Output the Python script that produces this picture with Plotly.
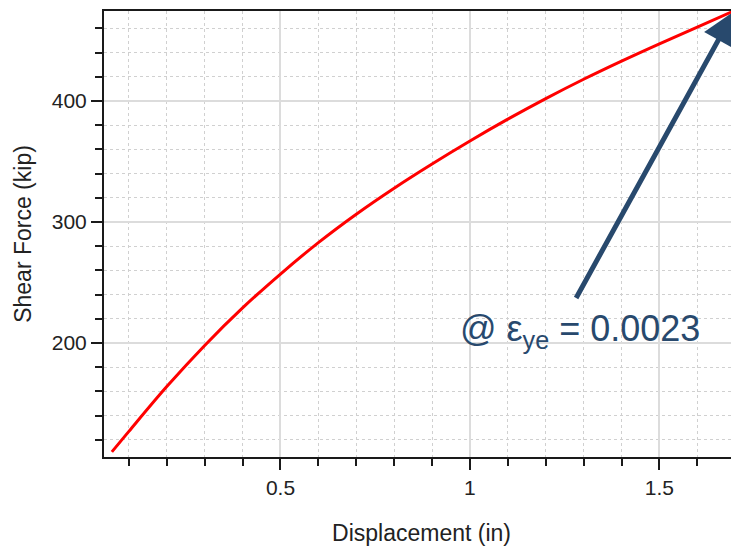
import plotly.graph_objects as go

# Data
disp = [0.055, 0.1, 0.2, 0.3, 0.4, 0.5, 0.6, 0.7, 0.8, 0.9, 1.0, 1.1, 1.2, 1.3, 1.4, 1.5, 1.6, 1.697]
shear = [110, 127, 164, 198, 229, 257, 283, 306.5, 328, 348, 367, 385, 402, 418, 433, 447.3, 461.1, 474.5]

x_ticks = [0.5, 1.0, 1.5]
x_tick_labels = ["0.5", "1", "1.5"]
y_ticks = [200, 300, 400]
y_tick_labels = ["200", "300", "400"]

arrow_tip = (1.697, 474.0)
arrow_tail = (1.278, 236)
note_text = "@ ε<sub>ye</sub> = 0.0023"
note_pos = (1.29, 210)

FONT = "Liberation Sans, Arial, sans-serif"
NAVY = "#28496d"

fig = go.Figure()
fig.add_trace(go.Scatter(
    x=disp, y=shear, mode="lines",
    line=dict(color="#ff0000", width=3, shape="spline", smoothing=1),
    showlegend=False, hoverinfo="skip",
))

axis_common = dict(
    showline=True, linecolor="#1a1a1a", linewidth=2,
    ticks="outside", ticklen=11, tickwidth=2, tickcolor="#1a1a1a",
    showgrid=True, gridcolor="#dcdcdc", gridwidth=2,
    zeroline=False, automargin=False,
    tickfont=dict(family=FONT, size=21, color="#222222"),
)

fig.update_xaxes(
    range=[0.0343, 1.710],
    tickvals=x_ticks, ticktext=x_tick_labels,
    mirror=True,
    title=dict(text="Displacement (in)", font=dict(family=FONT, size=23, color="#222222"), standoff=27),
    minor=dict(dtick=0.1, tick0=0, ticks="outside", ticklen=7, tickwidth=2, tickcolor="#1a1a1a",
               showgrid=True, gridcolor="#d0d0d0", gridwidth=1, griddash="dot"),
    **axis_common,
)
fig.update_yaxes(
    range=[105.8, 474.4],
    tickvals=y_ticks, ticktext=y_tick_labels,
    title=dict(text="Shear Force (kip)", font=dict(family=FONT, size=23, color="#222222"), standoff=14),
    minor=dict(dtick=20, tick0=0, ticks="outside", ticklen=7, tickwidth=2, tickcolor="#1a1a1a",
               showgrid=True, gridcolor="#d0d0d0", gridwidth=1, griddash="dot"),
    **axis_common,
)

fig.add_annotation(
    x=arrow_tip[0], y=arrow_tip[1], ax=arrow_tail[0], ay=arrow_tail[1],
    xref="x", yref="y", axref="x", ayref="y",
    text="", showarrow=True, arrowhead=2, arrowsize=1.3, arrowwidth=5,
    arrowcolor=NAVY,
)
fig.add_annotation(
    x=note_pos[0], y=note_pos[1], xref="x", yref="y",
    text=note_text, showarrow=False,
    font=dict(family=FONT, size=36, color=NAVY),
    xanchor="center", yanchor="middle",
)

# The page adds an 8px body margin, so the figure is sized/offset to compensate
fig.update_layout(
    width=731, height=543,
    margin=dict(l=96, r=0, t=3, b=94),
    paper_bgcolor="white", plot_bgcolor="white",
)

fig.write_html("out.html")
